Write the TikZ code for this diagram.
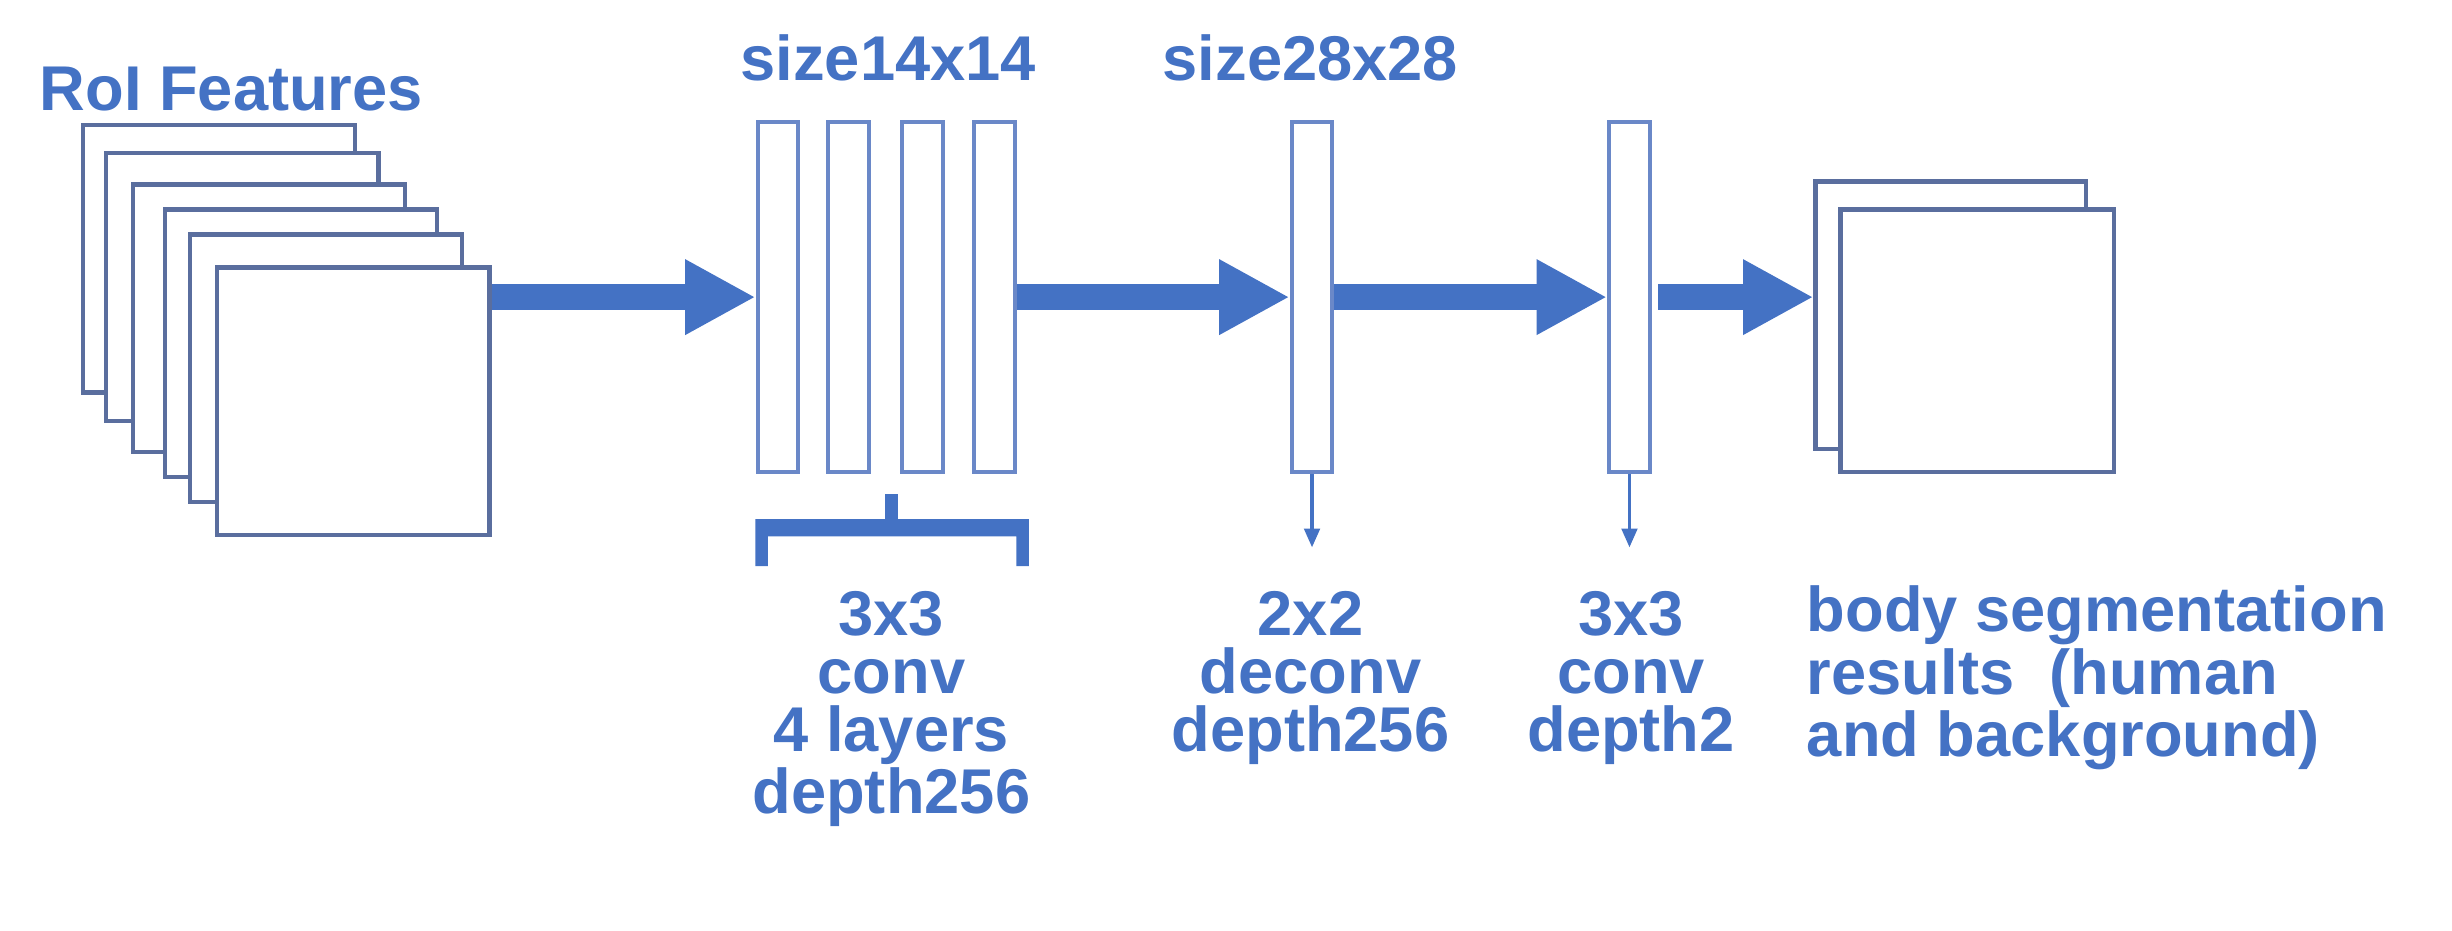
\documentclass[tikz,border=0pt]{standalone}
\usepackage{fontspec}
\setmainfont{Liberation Sans}
\usetikzlibrary{arrows.meta,calc}
\newcommand\U{0.01564cm}
\definecolor{tblue}{HTML}{4472C4}
\definecolor{sedge}{HTML}{5A6E9E}
\definecolor{cedge}{HTML}{6A88C8}
\tikzset{
  sheet/.style={draw=sedge,fill=white,line width=1.2pt,minimum width=174*\U,minimum height=171*\U,inner sep=0pt},
  layer/.style={draw=cedge,fill=white,line width=1.2pt,minimum width=26*\U,minimum height=224*\U,inner sep=0pt},
  fat/.style={draw=tblue,line width=17*\U,-{Triangle[length=45*\U,width=45*\U]}},
  thin/.style={draw=tblue,line width=0.9pt,-{Triangle[length=12*\U,width=10*\U]}},
  lbl/.style={text=tblue,font=\fontsize{18}{16.5}\selectfont\bfseries,inner sep=0pt,align=center}
}
\begin{document}
\begin{tikzpicture}[x=\U,y=-\U]
\useasboundingbox (0,0) rectangle (1568,595);
% input stack
\node[sheet] (s1) at (140,165.5) {};
\node[sheet] (s2) at (155,183.5) {};
\node[sheet] (s3) at (172,203.5) {};
\node[sheet] (s4) at (192.5,219.5) {};
\node[sheet] (s5) at (208.5,235.5) {};
\node[sheet] (s6) at (226,256.5) {};
\node[lbl,anchor=center] (roi) at (148,57) {RoI Features};
% conv layers
\node[layer] (c1) at (497.5,190) {};
\node[layer] (c2) at (542.5,190) {};
\node[layer] (c3) at (590,190) {};
\node[layer] (c4) at (636,190) {};
\node[layer] (c5) at (839,190) {};
\node[layer] (c6) at (1042,190) {};
\node[lbl] (t1) at (568,37) {size14x14};
\node[lbl] (t2) at (838,37) {size28x28};
% output stack
\node[sheet,minimum width=173*\U,minimum height=171*\U] (o1) at (1247.5,201.5) {};
\node[sheet,minimum width=175*\U,minimum height=168*\U] (o2) at (1264.5,218) {};
% fat arrows
\draw[fat] (s6.east |- c1.west) -- (c1.west);
\draw[fat] (c4.east) -- (c5.west);
\draw[fat] (c5.east) -- (c6.west);
\draw[fat,shorten <=4*\U] (c6.east) -- (o1.west |- c6.east);
% thin arrows
\coordinate (d5) at (839,350);
\coordinate (d6) at (1042,350);
\draw[thin] (c5.south) -- (d5);
\draw[thin] (c6.south) -- (d6);
% bracket
\fill[tblue] (483,332) -- (658,332) -- (658,362) -- (650,362) -- (650,343) -- (491,343) -- (491,362) -- (483,362) -- cycle;
\fill[tblue] (566,316) rectangle (574,333);
% bottom labels
\node[lbl] (b1) at (570,453.5) {3x3\\conv\\4 layers\\depth256};
\node[lbl] (b2) at (838,433.5) {2x2\\deconv\\depth256};
\node[lbl] (b3) at (1043,433.5) {3x3\\conv\\depth2};
\node[lbl,align=left,anchor=west] (b4) at (1155,433.5) {body segmentation\\results\ \ (human\\and background)};
\end{tikzpicture}
\end{document}
